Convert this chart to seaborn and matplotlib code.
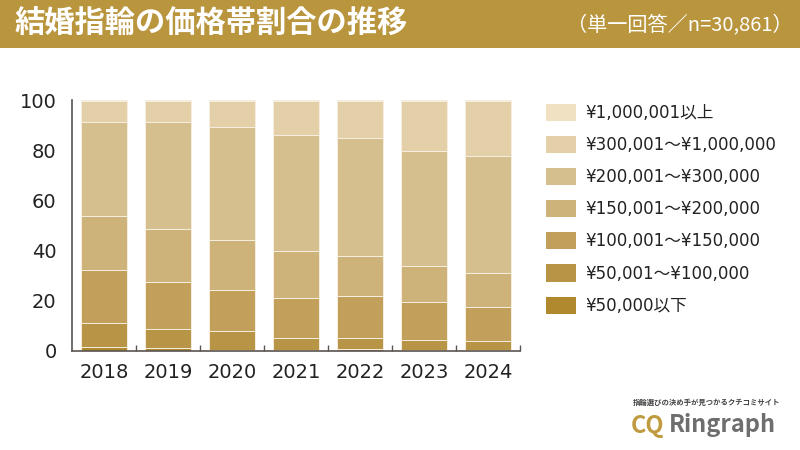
import matplotlib
matplotlib.use('Agg')
import matplotlib.pyplot as plt
from matplotlib.patches import Patch, Rectangle
from matplotlib.ticker import FixedLocator
import seaborn as sns
import pandas as pd

# data (percent)
years = [2018, 2019, 2020, 2021, 2022, 2023, 2024]
categories = ['¥1,000,001以上', '¥300,001～¥1,000,000', '¥200,001～¥300,000',
              '¥150,001～¥200,000', '¥100,001～¥150,000', '¥50,001～¥100,000',
              '¥50,000以下']
over_1m = [0.4, 0.4, 0.4, 0.4, 0.4, 0.4, 0.4]
r300k_1m = [8.3, 8.3, 10.2, 13.4, 14.6, 19.9, 21.8]
r200k_300k = [37.6, 42.6, 45.1, 46.4, 47.1, 45.8, 46.7]
r150k_200k = [21.5, 21.4, 20.0, 18.6, 16.1, 14.4, 13.5]
r100k_150k = [21.2, 18.5, 16.2, 16.0, 16.6, 15.0, 13.6]
r50k_100k = [9.5, 7.8, 7.6, 4.8, 4.5, 4.1, 3.7]
under_50k = [1.5, 1.0, 0.5, 0.4, 0.7, 0.4, 0.3]
series = [over_1m, r300k_1m, r200k_300k, r150k_200k, r100k_150k, r50k_100k, under_50k]

colors = ['#efe1c2', '#e3d0a8', '#d6bf8e', '#cdb27a', '#c2a05c', '#b79446', '#b0892f']

rows = []
for cat, vals in zip(categories, series):
    for y, v in zip(years, vals):
        rows.append({'year': y, 'cat': cat, 'pct': v})
df = pd.DataFrame(rows)

sns.set_theme(style='white')
plt.rcParams['font.family'] = ['Noto Sans CJK JP', 'DejaVu Sans']
num_font = ['DejaVu Sans', 'Noto Sans CJK JP']

fig = plt.figure(figsize=(8, 4.5), dpi=100)
fig.patch.set_facecolor('white')

# header band
fig.patches.append(Rectangle((0, 1 - 48 / 450), 1, 48 / 450, transform=fig.transFigure,
                             facecolor='#b9963e', edgecolor='none', zorder=0))
fig.text(14 / 800, 1 - 24 / 450, '結婚指輪の価格帯割合の推移', color='white',
         fontsize=21.8, fontweight='bold', va='center', ha='left')
fig.text(793 / 800, 1 - 25 / 450, '（単一回答／n=30,861）', color='white',
         fontsize=14.5, va='center', ha='right')

ax = fig.add_axes([72 / 800, 99 / 450, 448 / 800, 251 / 450])
sns.histplot(data=df, x='year', weights='pct', hue='cat', hue_order=categories,
             multiple='stack', discrete=True, shrink=0.72, palette=colors,
             alpha=1, edgecolor='#f6eedf', linewidth=0.7, legend=False, ax=ax)

ax.set_xlim(2017.5, 2024.5)
ax.set_ylim(0, 100)
ax.set_xlabel('')
ax.set_ylabel('')
ax.set_yticks([0, 20, 40, 60, 80, 100])
ax.set_xticks(years)
ax.set_xticklabels([str(y) for y in years])
ax.xaxis.set_minor_locator(FixedLocator([y + 0.5 for y in years]))
for lbl in ax.get_xticklabels() + ax.get_yticklabels():
    lbl.set_family(num_font)
for s in ['top', 'right']:
    ax.spines[s].set_visible(False)
for s in ['left', 'bottom']:
    ax.spines[s].set_color('#5a5452')
    ax.spines[s].set_linewidth(1.2)
ax.tick_params(axis='y', which='major', direction='out', length=6, width=1,
               color='#5a5452', labelsize=14, labelcolor='#222222', pad=5)
ax.tick_params(axis='x', which='major', length=0, labelsize=14,
               labelcolor='#222222', pad=9)
ax.tick_params(axis='x', which='minor', direction='in', length=4, width=1,
               color='#5a5452', bottom=True)

handles = [Patch(facecolor=c, edgecolor='none') for c in colors]
leg = fig.legend(handles, categories, loc='upper left',
                 bbox_to_anchor=(539 / 800, 1 - 97 / 450),
                 frameon=False, handlelength=1.8, handleheight=1.2,
                 labelspacing=0.84, handletextpad=0.55, borderaxespad=0,
                 prop={'family': num_font, 'size': 12}, labelcolor='#222222')

# logo
fig.text(707 / 800, 1 - 402 / 450, '指輪選びの決め手が見つかるクチコミサイト',
         fontsize=5.3, color='#444444', ha='center', va='center', fontweight='bold')
fig.text(631 / 800, 1 - 426 / 450, 'CQ', fontsize=17, color='#bf9a3e',
         ha='left', va='center', fontweight='bold')
fig.text(669 / 800, 1 - 425 / 450, 'Ringraph', fontsize=17, color='#6e6e6e',
         ha='left', va='center', fontweight='bold')

fig.savefig('out.png', dpi=100)
